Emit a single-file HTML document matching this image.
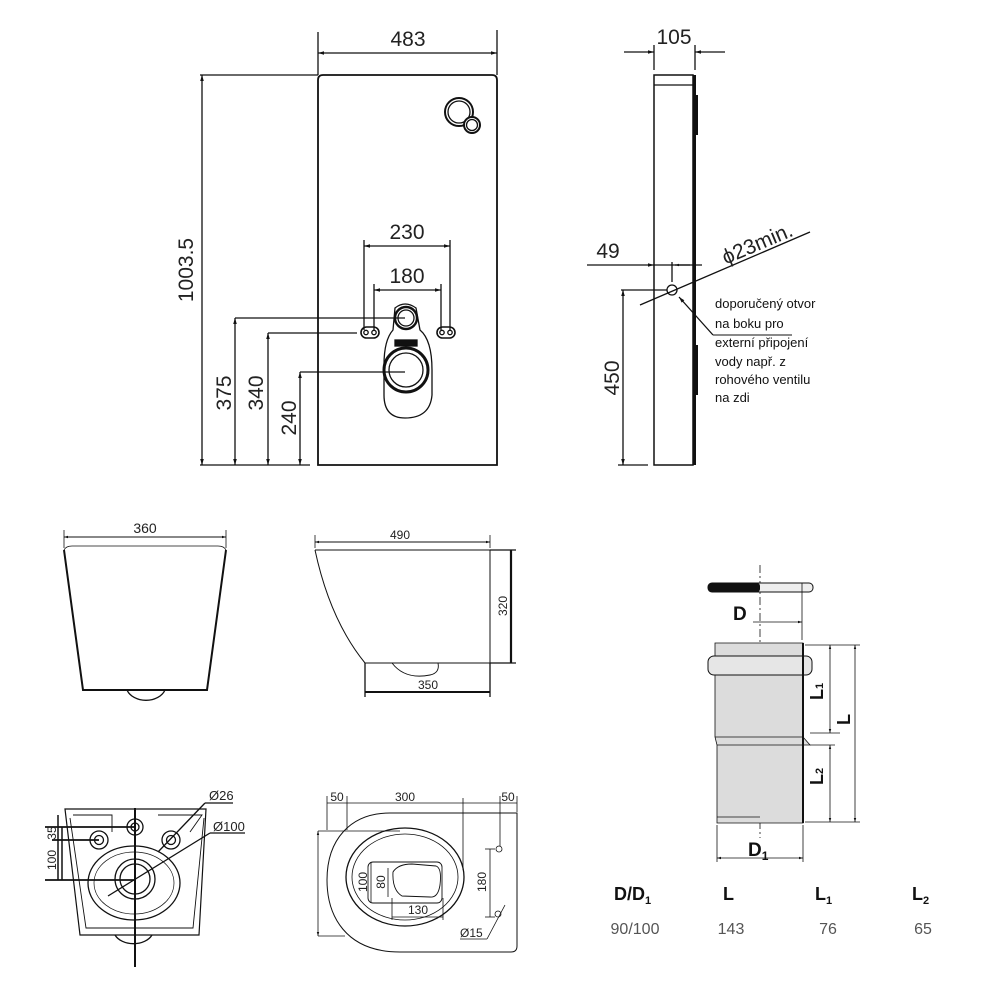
<!DOCTYPE html>
<html><head><meta charset="utf-8"><style>
html,body{margin:0;padding:0;background:#fff;}
svg{display:block;font-family:"Liberation Sans",sans-serif;}
</style></head><body>
<svg width="1000" height="1000" viewBox="0 0 1000 1000" xmlns="http://www.w3.org/2000/svg">
<defs>
<marker id="a" viewBox="0 0 10 10" refX="10" refY="5" markerWidth="9" markerHeight="6" orient="auto-start-reverse" markerUnits="userSpaceOnUse"><path d="M0,2 L10,5 L0,8z" fill="#111"/></marker>
<marker id="s" viewBox="0 0 10 10" refX="10" refY="5" markerWidth="6" markerHeight="4" orient="auto-start-reverse" markerUnits="userSpaceOnUse"><path d="M0,2 L10,5 L0,8z" fill="#111"/></marker>
</defs>
<g stroke="#111" fill="none" stroke-width="1.3">
<path d="M318,465 L318,80 Q318,75 323,75 L492,75 Q497,75 497,80 L497,465 Z" stroke-width="1.8"/>
<line x1="318" y1="32" x2="318" y2="75"/><line x1="497" y1="30" x2="497" y2="75"/>
<line x1="318" y1="53" x2="497" y2="53" marker-start="url(#a)" marker-end="url(#a)"/>
<line x1="200" y1="75" x2="318" y2="75"/><line x1="200" y1="465" x2="310" y2="465"/>
<line x1="202" y1="75" x2="202" y2="465" marker-start="url(#a)" marker-end="url(#a)"/>
<circle cx="459" cy="112" r="14" stroke-width="2"/><circle cx="459" cy="112" r="11"/>
<circle cx="472" cy="125" r="8" fill="#fff" stroke-width="2"/><circle cx="472" cy="125" r="5.5"/>
<line x1="364" y1="240" x2="364" y2="330"/><line x1="450" y1="240" x2="450" y2="330"/>
<line x1="364" y1="246" x2="450" y2="246" marker-start="url(#a)" marker-end="url(#a)"/>
<line x1="374" y1="284" x2="374" y2="330"/><line x1="441" y1="284" x2="441" y2="330"/>
<line x1="374" y1="290" x2="441" y2="290" marker-start="url(#a)" marker-end="url(#a)"/>
<rect x="361" y="327" width="18" height="11" rx="5.5" stroke-width="1.6"/>
<circle cx="366" cy="332.5" r="2.2"/><circle cx="374" cy="332.5" r="2.2"/>
<rect x="437" y="327" width="18" height="11" rx="5.5" stroke-width="1.6"/>
<circle cx="442" cy="332.5" r="2.2"/><circle cx="450" cy="332.5" r="2.2"/>
<path d="M395,308 Q405,300 416,308 L420,330 Q432,340 432,370 L432,395 Q430,418 405,418 Q384,418 384,395 L384,365 Q384,340 393,330 Z" stroke-width="1.3"/>
<circle cx="406" cy="318" r="11" stroke-width="2.4"/><circle cx="406" cy="318" r="8"/>
<rect x="395" y="340" width="22" height="6" fill="#111"/>
<circle cx="406" cy="370" r="22" stroke-width="3"/><circle cx="406" cy="370" r="17"/>
<line x1="235" y1="318" x2="405" y2="318"/>
<line x1="235" y1="318" x2="235" y2="465" marker-start="url(#a)" marker-end="url(#a)"/>
<line x1="268" y1="333" x2="357" y2="333"/>
<line x1="268" y1="333" x2="268" y2="465" marker-start="url(#a)" marker-end="url(#a)"/>
<line x1="300" y1="372" x2="405" y2="372"/>
<line x1="300" y1="372" x2="300" y2="465" marker-start="url(#a)" marker-end="url(#a)"/>

<rect x="654" y="75" width="39" height="390" stroke-width="1.5"/>
<line x1="654" y1="85" x2="693" y2="85"/>
<rect x="693" y="75" width="3" height="390" fill="#111" stroke="none"/>
<rect x="693" y="95" width="5" height="40" fill="#111" stroke="none"/>
<rect x="693" y="345" width="5" height="50" fill="#111" stroke="none"/>
<line x1="654" y1="45" x2="654" y2="70"/><line x1="695" y1="45" x2="695" y2="70"/>
<line x1="624" y1="52" x2="654" y2="52" marker-end="url(#a)"/>
<line x1="725" y1="52" x2="695" y2="52" marker-end="url(#a)"/>
<line x1="587" y1="265" x2="654" y2="265" marker-end="url(#a)"/>
<line x1="654" y1="265" x2="702" y2="265"/>
<line x1="672" y1="262" x2="672" y2="282"/>
<line x1="690" y1="265" x2="675" y2="265" marker-end="url(#s)"/>
<circle cx="672" cy="290" r="5"/>
<line x1="621" y1="290" x2="667" y2="290"/>
<line x1="623" y1="290" x2="623" y2="465" marker-start="url(#a)" marker-end="url(#a)"/>
<line x1="618" y1="465" x2="648" y2="465"/>
<line x1="640" y1="305" x2="810" y2="232"/>
<line x1="713" y1="335" x2="679" y2="297" marker-end="url(#a)"/>
<line x1="713" y1="335" x2="792" y2="335" stroke-width="0.9"/>

<path d="M64,550 L83,690 L207,690 L226,550" stroke-width="2"/>
<path d="M64,550 Q66,546 72,546 L218,546 Q224,546 226,550" stroke-width="0.8"/>
<path d="M127,690 A20,15 0 0 0 165,690"/>
<line x1="64" y1="530" x2="64" y2="548" stroke-width="0.8"/><line x1="226" y1="530" x2="226" y2="548" stroke-width="0.8"/>
<line x1="64" y1="537" x2="226" y2="537" marker-start="url(#s)" marker-end="url(#s)" stroke-width="0.9"/>
<path d="M315,550 L490,550 L490,663 L365,663 Q330,620 315,550" stroke-width="1"/>
<path d="M392,663 Q405,680 430,675 Q440,673 438,663" stroke-width="0.9"/>
<line x1="315" y1="535" x2="315" y2="548" stroke-width="0.8"/><line x1="490" y1="535" x2="490" y2="548" stroke-width="0.8"/>
<line x1="315" y1="542" x2="490" y2="542" marker-start="url(#s)" marker-end="url(#s)" stroke-width="0.9"/>
<line x1="490" y1="550" x2="516" y2="550"/><line x1="490" y1="663" x2="516" y2="663"/>
<line x1="511" y1="550" x2="511" y2="663" stroke-width="2.2"/>
<line x1="365" y1="663" x2="365" y2="697"/><line x1="490" y1="663" x2="490" y2="697"/>
<line x1="365" y1="692" x2="490" y2="692" stroke-width="2"/>

<path d="M65,809 L80,935 L199,935 L206,809 Z" stroke-width="1.2"/>
<path d="M70,818 L86,928 L193,928 L204,818" stroke-width="0.9"/>
<path d="M73,815 L112,815 L112,832" stroke-width="0.9"/>
<path d="M158,815 L202,815 L190,832" stroke-width="0.9"/>
<path d="M115,935 A20,14 0 0 0 152,935"/>
<ellipse cx="134" cy="883" rx="46" ry="37"/>
<ellipse cx="134" cy="883" rx="40" ry="31" stroke-width="0.7"/>
<circle cx="135" cy="879" r="20"/><circle cx="135" cy="879" r="15"/>
<circle cx="135" cy="827" r="8"/><circle cx="135" cy="827" r="4"/>
<circle cx="99" cy="840" r="9"/><circle cx="99" cy="840" r="4.5"/>
<circle cx="171" cy="840" r="9"/><circle cx="171" cy="840" r="4.5"/>
<line x1="135" y1="808" x2="135" y2="967" stroke-width="2"/>
<line x1="45" y1="827" x2="135" y2="827" stroke-width="1.8"/>
<line x1="52" y1="840" x2="99" y2="840" stroke-width="1.8"/>
<line x1="45" y1="880" x2="135" y2="880" stroke-width="1.8"/>
<line x1="58" y1="815" x2="58" y2="880" stroke-width="1.5"/>
<line x1="62" y1="827" x2="62" y2="880" stroke-width="1.5"/>
<line x1="158" y1="852" x2="205" y2="803"/><line x1="205" y1="803" x2="233" y2="803"/>
<line x1="108" y1="896" x2="210" y2="833"/><line x1="210" y1="833" x2="245" y2="833"/>

<path d="M390,813 L517,813 L517,946 Q517,952 511,952 L400,952 C345,952 327,915 327,880 C327,840 350,813 390,813 Z" stroke-width="1"/>
<ellipse cx="405" cy="877" rx="59" ry="49"/>
<ellipse cx="405" cy="877" rx="53" ry="43" stroke-width="0.8"/>
<rect x="368" y="862" width="74" height="41" rx="5" stroke-width="0.9"/>
<path d="M393,872 Q398,864 412,864 L436,866 Q442,868 440,885 Q438,898 430,897 L402,896 Q392,890 393,872 Z" stroke-width="0.9"/>
<line x1="327" y1="796" x2="327" y2="830" stroke-width="0.8"/>
<line x1="347" y1="796" x2="347" y2="830" stroke-width="0.8"/>
<line x1="463" y1="798" x2="463" y2="870" stroke-width="0.8"/>
<line x1="500" y1="796" x2="500" y2="846" stroke-width="0.8"/>
<line x1="517" y1="796" x2="517" y2="812" stroke-width="0.8"/>
<line x1="327" y1="803" x2="517" y2="803" stroke-width="0.8"/>
<line x1="318" y1="831" x2="400" y2="831" stroke-width="0.8"/>
<line x1="318" y1="831" x2="318" y2="936" stroke-width="0.8" marker-start="url(#s)" marker-end="url(#s)"/>
<line x1="318" y1="936" x2="345" y2="936" stroke-width="0.8"/>
<line x1="371" y1="862" x2="371" y2="903" stroke-width="0.8"/>
<line x1="388" y1="868" x2="388" y2="897" stroke-width="0.8"/>
<line x1="392" y1="898" x2="392" y2="920" stroke-width="0.8"/>
<line x1="443" y1="898" x2="443" y2="920" stroke-width="0.8"/>
<line x1="392" y1="917" x2="443" y2="917" stroke-width="0.8"/>
<circle cx="499" cy="849" r="3" stroke-width="0.8"/>
<line x1="485" y1="849" x2="495" y2="849" stroke-width="0.8"/>
<line x1="485" y1="917" x2="495" y2="917" stroke-width="0.8"/>
<line x1="490" y1="849" x2="490" y2="917" stroke-width="0.8"/>
<circle cx="498" cy="914" r="3" stroke-width="0.8"/>
<line x1="505" y1="905" x2="487" y2="939" stroke-width="0.8"/>
<line x1="487" y1="939" x2="460" y2="939" stroke-width="0.8"/>

<line x1="760" y1="565" x2="760" y2="838" stroke-width="0.8" stroke-dasharray="8,3,2,3"/>
<rect x="708" y="583" width="105" height="9" rx="4" fill="#eee" stroke-width="1"/>
<rect x="708" y="583" width="52" height="9" rx="3" fill="#111" stroke="none"/>
<line x1="802" y1="583" x2="802" y2="640" stroke-width="0.8"/>
<line x1="753" y1="622" x2="802" y2="622" stroke-width="0.8" marker-end="url(#s)"/>
<path d="M715,643 L803,643 L803,737 L810,745 L803,745 L803,823 L717,823 L717,745 L715,737 Z" fill="#dcdcdc" stroke-width="0.8"/>
<line x1="715" y1="737" x2="803" y2="737" stroke-width="0.7"/>
<line x1="717" y1="745" x2="803" y2="745" stroke-width="0.7"/>
<line x1="717" y1="817" x2="760" y2="817" stroke-width="0.7"/>
<rect x="708" y="656" width="104" height="19" rx="6" fill="#e6e6e6" stroke-width="1"/>
<line x1="803" y1="643" x2="803" y2="823" stroke-width="2"/>
<line x1="805" y1="645" x2="860" y2="645" stroke-width="0.8"/>
<line x1="810" y1="733" x2="840" y2="733" stroke-width="0.8"/>
<line x1="810" y1="745" x2="835" y2="745" stroke-width="0.8"/>
<line x1="805" y1="822" x2="860" y2="822" stroke-width="0.8"/>
<line x1="830" y1="645" x2="830" y2="733" stroke-width="0.8" marker-start="url(#s)" marker-end="url(#s)"/>
<line x1="830" y1="745" x2="830" y2="822" stroke-width="0.8" marker-start="url(#s)" marker-end="url(#s)"/>
<line x1="855" y1="645" x2="855" y2="822" stroke-width="0.8" marker-start="url(#s)" marker-end="url(#s)"/>
<line x1="717" y1="825" x2="717" y2="862" stroke-width="0.8"/>
<line x1="803" y1="825" x2="803" y2="862" stroke-width="0.8"/>
<line x1="717" y1="858" x2="803" y2="858" stroke-width="0.8" marker-start="url(#s)" marker-end="url(#s)"/>
</g>

<g fill="#222" font-size="21">
<text x="408" y="46" text-anchor="middle">483</text>
<text x="193" y="270" text-anchor="middle" transform="rotate(-90 193 270)">1003.5</text>
<text x="407" y="239" text-anchor="middle">230</text>
<text x="407" y="283" text-anchor="middle">180</text>
<text x="231" y="393" text-anchor="middle" transform="rotate(-90 231 393)">375</text>
<text x="263" y="393" text-anchor="middle" transform="rotate(-90 263 393)">340</text>
<text x="296" y="418" text-anchor="middle" transform="rotate(-90 296 418)">240</text>
<text x="674" y="44" text-anchor="middle">105</text>
<text x="608" y="258" text-anchor="middle">49</text>
<text x="619" y="378" text-anchor="middle" transform="rotate(-90 619 378)">450</text>
<text x="760" y="250" text-anchor="middle" transform="rotate(-23 760 250)">ϕ23min.</text>
</g>
<g fill="#111" font-size="13">
<text x="715" y="308">doporučený otvor</text>
<text x="715" y="328">na boku pro</text>
<text x="715" y="347">externí připojení</text>
<text x="715" y="366">vody např. z</text>
<text x="715" y="384">rohového ventilu</text>
<text x="715" y="402">na zdi</text>
</g>
<g fill="#222" font-size="14">
<text x="145" y="533" text-anchor="middle">360</text>
<text x="400" y="539" font-size="12" text-anchor="middle">490</text>
<text x="507" y="606" font-size="12" text-anchor="middle" transform="rotate(-90 507 606)">320</text>
<text x="428" y="689" font-size="12" text-anchor="middle">350</text>
<text x="209" y="800" font-size="13">Ø26</text>
<text x="213" y="831" font-size="13">Ø100</text>
<text x="56" y="833" font-size="12" text-anchor="middle" transform="rotate(-90 56 833)">35</text>
<text x="56" y="860" font-size="12" text-anchor="middle" transform="rotate(-90 56 860)">100</text>
<text x="337" y="801" font-size="12" text-anchor="middle">50</text>
<text x="405" y="801" font-size="12" text-anchor="middle">300</text>
<text x="508" y="801" font-size="12" text-anchor="middle">50</text>
<text x="367" y="882" font-size="12" text-anchor="middle" transform="rotate(-90 367 882)">100</text>
<text x="385" y="882" font-size="12" text-anchor="middle" transform="rotate(-90 385 882)">80</text>
<text x="418" y="914" font-size="12" text-anchor="middle">130</text>
<text x="486" y="882" font-size="12" text-anchor="middle" transform="rotate(-90 486 882)">180</text>
<text x="460" y="937" font-size="12">Ø15</text>
</g>
<g fill="#111" font-weight="bold" font-size="18">
<text x="733" y="620" font-size="19">D</text>
<text x="748" y="856" font-size="19">D<tspan font-size="12" dy="4">1</tspan></text>
<text x="823" y="700" font-size="18" transform="rotate(-90 823 700)">L<tspan font-size="11">1</tspan></text>
<text x="850" y="725" font-size="18" transform="rotate(-90 850 725)">L</text>
<text x="823" y="785" font-size="18" transform="rotate(-90 823 785)">L<tspan font-size="11">2</tspan></text>
<text x="614" y="900">D/D<tspan font-size="11" dy="4">1</tspan></text>
<text x="723" y="900">L</text>
<text x="815" y="900">L<tspan font-size="11" dy="4">1</tspan></text>
<text x="912" y="900">L<tspan font-size="11" dy="4">2</tspan></text>
</g>
<g fill="#555" font-size="16">
<text x="635" y="934" text-anchor="middle">90/100</text>
<text x="731" y="934" text-anchor="middle">143</text>
<text x="828" y="934" text-anchor="middle">76</text>
<text x="923" y="934" text-anchor="middle">65</text>
</g>
</svg>
</body></html>
